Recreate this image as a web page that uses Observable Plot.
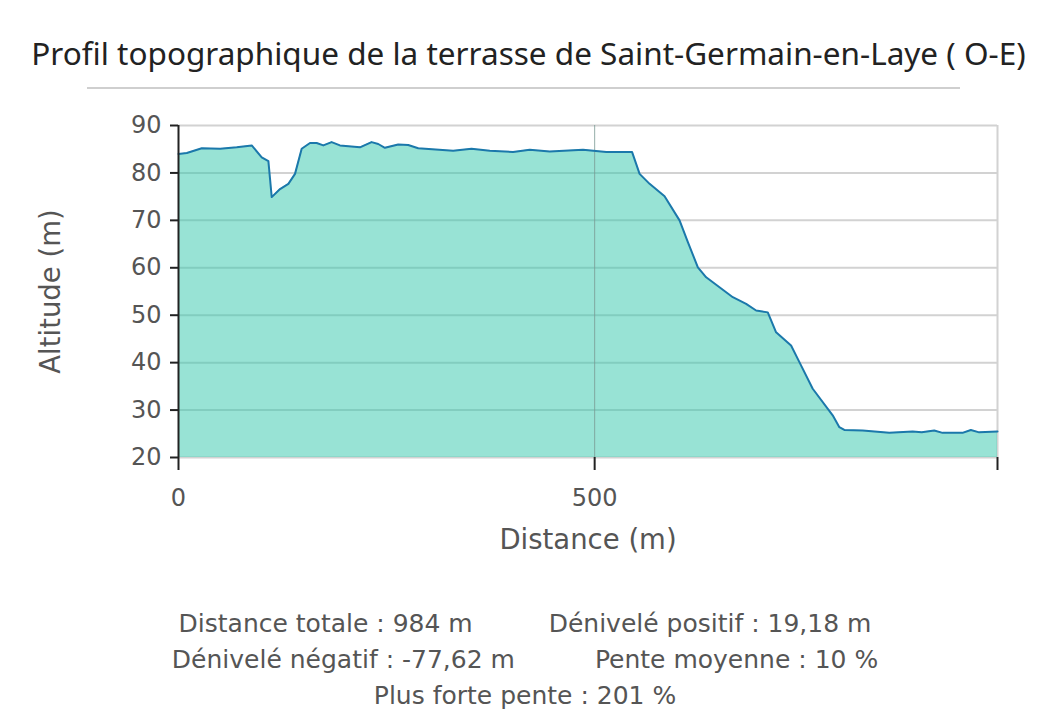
<!DOCTYPE html>
<html>
<head>
<meta charset="utf-8">
<script src="https://cdn.jsdelivr.net/npm/d3@7"></script>
<script src="https://cdn.jsdelivr.net/npm/@observablehq/plot@0.6"></script>
<style>
  html, body { margin: 0; padding: 0; background: #fff; }
  #wrap { position: relative; width: 1050px; height: 713px; overflow: hidden; }
  #title { position: absolute; left: 0; width: 1057px; top: 31px; text-align: center;
    font-family: "Noto Sans", sans-serif; font-size: 31.5px; color: #222; white-space: nowrap; }
  #rule { position: absolute; left: 87px; width: 873px; top: 87px; height: 2px; background: #cfcfcf; }
  #chart { position: absolute; left: 0; top: 100px; }
  #foot { position: absolute; left: 0; width: 1050px; top: 606px; text-align: center;
    font-family: "DejaVu Sans", sans-serif; font-size: 25px; color: #555; line-height: 36px; white-space: nowrap; }
  #foot span.gap { display: inline-block; }
</style>
</head>
<body>
<div id="wrap">
  <div id="title"></div>
  <div id="rule"></div>
  <div id="chart"></div>
  <div id="foot"></div>
</div>
<script>
const titleText = "Profil topographique de la terrasse de Saint-Germain-en-Laye ( O-E)";
const xLabel = "Distance (m)";
const yLabel = "Altitude (m)";
const distances = [0,10,28,50,70,88,100,108,112,122,132,140,148,158,166,174,184,194,218,232,240,248,264,276,288,330,352,374,402,422,446,486,514,545,554,566,584,602,612,624,634,650,666,682,694,708,718,736,746,762,786,794,800,822,854,882,893,908,918,942,952,962,984];
const altitudes = [84.0,84.2,85.2,85.1,85.4,85.8,83.3,82.5,74.9,76.6,77.7,79.8,85.1,86.3,86.3,85.8,86.5,85.8,85.4,86.5,86.1,85.3,86.0,85.9,85.2,84.7,85.1,84.7,84.4,84.9,84.5,84.9,84.4,84.4,79.8,77.7,75.1,70.0,65.4,60.1,58.0,55.9,53.8,52.4,51.0,50.6,46.4,43.6,40.1,34.5,28.9,26.4,25.8,25.7,25.2,25.5,25.3,25.7,25.2,25.2,25.8,25.3,25.5];
const yTicks = [20,30,40,50,60,70,80,90];
const xTicks = [0,500,984];
const xTickLabels = ["0","500",""];
const footLines = [
  ["Distance totale : 984 m", "Dénivelé positif : 19,18 m"],
  ["Dénivelé négatif : -77,62 m", "Pente moyenne : 10 %"],
  ["Plus forte pente : 201 %"]
];
const footGaps = [76, 80, 0];

const data = distances.map((d, i) => ({d, alt: altitudes[i]}));

document.getElementById("title").textContent = titleText;
const foot = document.getElementById("foot");
footLines.forEach((line, li) => {
  const div = document.createElement("div");
  line.forEach((t, i) => {
    if (i > 0) { const g = document.createElement("span"); g.className = "gap"; g.style.width = footGaps[li] + "px"; div.appendChild(g); }
    const s = document.createElement("span"); s.textContent = t; div.appendChild(s);
  });
  foot.appendChild(div);
});

const chart = Plot.plot({
  width: 1050,
  height: 460,
  marginLeft: 178,
  marginRight: 53,
  marginTop: 25,
  marginBottom: 103,
  style: { fontFamily: "DejaVu Sans, sans-serif", fontSize: "21px", color: "#555", background: "#fff", overflow: "visible" },
  x: { domain: [0, 984] },
  y: { domain: [20, 90] },
  marks: [
    Plot.gridY(yTicks, { stroke: "#d2d2d2", strokeOpacity: 1, strokeWidth: 2 }),
    Plot.ruleX([984], { y1: 20, y2: 90, stroke: "#d2d2d2", strokeWidth: 2 }),
    Plot.areaY(data, { x: "d", y1: 20, y2: "alt", fill: "#31c7ab", fillOpacity: 0.5 }),
    Plot.gridX([500], { stroke: "#7a9a94", strokeOpacity: 0.8, strokeWidth: 1 }),
    Plot.lineY(data, { x: "d", y: "alt", stroke: "#1b78ab", strokeWidth: 2 }),
    Plot.ruleX([0], { y1: 20, y2: 90, stroke: "#222", strokeWidth: 2 }),
    Plot.axisY(yTicks, { tickSize: 8, tickPadding: 9, stroke: "#222", strokeWidth: 2, fill: "#555", fontSize: 24, label: null }),
    Plot.axisX(xTicks, { tickSize: 13, tickPadding: 18, stroke: "#222", strokeWidth: 2, fill: "#555", fontSize: 24,
      tickFormat: (d) => xTickLabels[xTicks.indexOf(d)], label: null }),
    Plot.text([yLabel], { text: d => d, frameAnchor: "left", dx: -127, rotate: -90, textAnchor: "middle", fontSize: 27.5, fill: "#555" }),
    Plot.text([xLabel], { text: d => d, frameAnchor: "bottom", dy: 91, lineAnchor: "bottom", fontSize: 27.5, fill: "#555" })
  ]
});
document.getElementById("chart").appendChild(chart);
</script>
</body>
</html>
